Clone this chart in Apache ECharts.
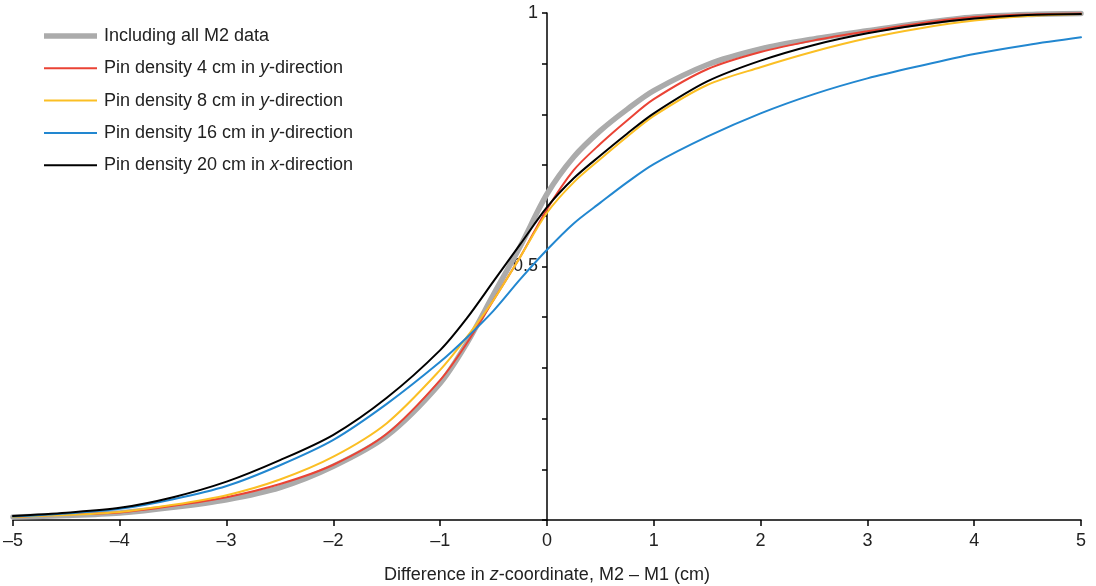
<!DOCTYPE html>
<html><head><meta charset="utf-8">
<script src="https://cdn.jsdelivr.net/npm/echarts@6/dist/echarts.min.js"></script>
<style>html,body{margin:0;padding:0;background:#fff}#c{width:1096px;height:586px}</style>
</head><body><div id="c"></div>
<script>
const xs = [-5,-4.5,-4,-3.5,-3,-2.5,-2,-1.5,-1,-0.75,-0.5,-0.25,0,0.25,0.5,0.75,1,1.5,2,2.5,3,3.5,4,4.5,5];
const allM2 = [0.006,0.009,0.014,0.025,0.040,0.064,0.106,0.166,0.270,0.349,0.445,0.540,0.643,0.716,0.768,0.810,0.847,0.898,0.929,0.949,0.965,0.980,0.992,0.997,0.999];
const pin4y = [0.006,0.011,0.015,0.028,0.045,0.071,0.109,0.170,0.276,0.349,0.434,0.519,0.613,0.690,0.742,0.788,0.830,0.889,0.923,0.946,0.964,0.980,0.992,0.997,0.999];
const pin8y = [0.006,0.010,0.016,0.030,0.049,0.080,0.125,0.191,0.296,0.361,0.434,0.519,0.606,0.666,0.712,0.756,0.797,0.858,0.893,0.924,0.950,0.970,0.985,0.994,0.998];
const pin16y = [0.007,0.013,0.022,0.041,0.067,0.108,0.158,0.229,0.312,0.360,0.413,0.475,0.533,0.585,0.626,0.666,0.702,0.756,0.802,0.840,0.871,0.896,0.919,0.937,0.952];
const pin20x = [0.008,0.0145,0.024,0.045,0.0756,0.118,0.168,0.241,0.335,0.398,0.471,0.544,0.617,0.674,0.719,0.762,0.802,0.865,0.906,0.937,0.960,0.977,0.989,0.996,0.998];
const seriesNames = ['Including all M2 data','Pin density 4 cm in y-direction','Pin density 8 cm in y-direction','Pin density 16 cm in y-direction','Pin density 20 cm in x-direction'];
const legendLabels = ['Including all M2 data','Pin density 4 cm in {i|y}-direction','Pin density 8 cm in {i|y}-direction','Pin density 16 cm in {i|y}-direction','Pin density 20 cm in {i|x}-direction'];
const xTicks = [-5,-4,-3,-2,-1,0,1,2,3,4,5];

const FONT = '"Liberation Sans", Arial, Helvetica, sans-serif';
const FS = 18;
const TXT = '#222';
const GRID_L = 13, GRID_R = 15, W = 1096;
const pair = arr => xs.map((x,i)=>[x,arr[i]]);
const mk = (name, arr, color, width, z) => ({
  name, type:'line', data: pair(arr), showSymbol:false, symbol:'none', smooth:0.3,
  lineStyle:{color, width, cap:'round'}, itemStyle:{color}, z, animation:false
});
const chart = echarts.init(document.getElementById('c'), null, {renderer:'canvas'});
const thin = 'path://M0 0H53V2H0Z';
const thick = 'path://M0 0H53V5.5H0Z';
chart.setOption({
  animation:false,
  grid:{left:GRID_L, right:GRID_R, top:13, bottom:66, containLabel:false, outerBoundsMode:'none'},
  legend:{
    orient:'vertical', left:39, top:22, itemWidth:53, itemHeight:14, itemGap:14.3, padding:5,
    data: seriesNames.map((n,i)=>({name:n, icon: i===0 ? thick : thin})),
    formatter: n => legendLabels[seriesNames.indexOf(n)],
    textStyle:{fontFamily:FONT, fontSize:FS, color:TXT, padding:[0,0,0,2], rich:{i:{fontStyle:'italic', fontFamily:FONT, fontSize:FS, color:TXT}}}
  },
  xAxis:{
    type:'value', min:-5, max:5, interval:1,
    name:'Difference in {i|z}-coordinate, M2 – M1 (cm)', nameLocation:'middle', nameGap:46,
    nameTextStyle:{fontFamily:FONT, fontSize:FS, color:TXT, rich:{i:{fontStyle:'italic', fontFamily:FONT, fontSize:FS, color:TXT}}},
    axisLine:{onZero:false, lineStyle:{color:'#000', width:1.5}},
    axisTick:{show:true, inside:false, length:6, lineStyle:{color:'#000', width:1.5}},
    axisLabel:{fontFamily:FONT, fontSize:FS, color:TXT, margin:12,
      formatter: v => xTicks.includes(v) ? (v<0 ? '\u2013'+Math.abs(v) : String(v)) : ''},
    splitLine:{show:false}
  },
  yAxis:{
    type:'value', min:0, max:1, interval:0.1,
    offset: -((W - GRID_L - GRID_R) / 2),
    axisLine:{show:true, onZero:false, lineStyle:{color:'#000', width:1.5}},
    axisTick:{show:true, inside:false, length:5, lineStyle:{color:'#000', width:1.5}},
    axisLabel:{fontFamily:FONT, fontSize:FS, color:TXT, margin:9,
      formatter: v => Math.abs(v-1)<1e-9 ? '1' : (Math.abs(v-0.5)<1e-9 ? '0.5' : '')},
    splitLine:{show:false}
  },
  series:[
    mk(seriesNames[0], allM2, '#ababab', 5.5, 1),
    mk(seriesNames[1], pin4y, '#ea4335', 2, 2),
    mk(seriesNames[2], pin8y, '#fbbf24', 2, 3),
    mk(seriesNames[3], pin16y, '#2287d0', 2, 4),
    mk(seriesNames[4], pin20x, '#000000', 2, 5)
  ]
});
</script></body></html>
